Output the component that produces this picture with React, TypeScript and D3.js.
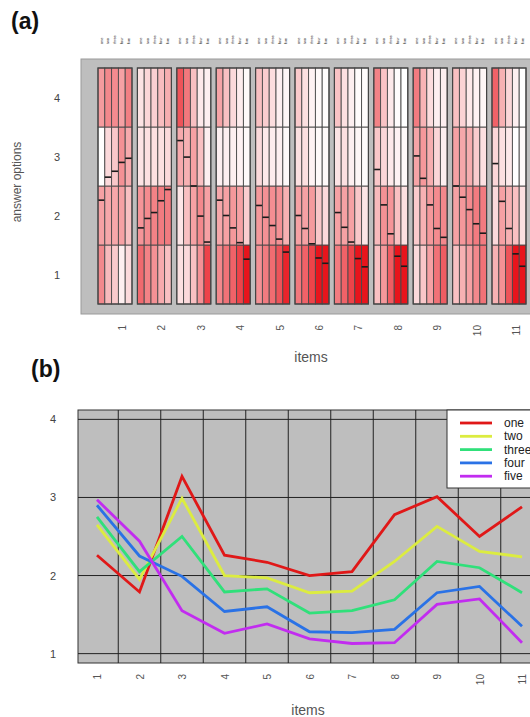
import React from 'react';
import * as d3 from 'd3';

const items = ["1", "2", "3", "4", "5", "6", "7", "8", "9", "10", "11"];
const groups = ["one", "two", "three", "four", "five"];
const options = [1, 2, 3, 4];
const yTicks = [1, 2, 3, 4];

// mean answer per group and item
const meanOne = [2.26, 1.79, 3.27, 2.26, 2.17, 2.0, 2.05, 2.78, 3.01, 2.5, 2.88];
const meanTwo = [2.65, 1.95, 2.99, 2.0, 1.97, 1.78, 1.8, 2.18, 2.63, 2.31, 2.24];
const meanThree = [2.75, 2.05, 2.5, 1.79, 1.83, 1.52, 1.55, 1.69, 2.18, 2.1, 1.78];
const meanFour = [2.9, 2.25, 1.99, 1.54, 1.6, 1.28, 1.27, 1.31, 1.78, 1.86, 1.35];
const meanFive = [2.97, 2.44, 1.55, 1.26, 1.38, 1.19, 1.13, 1.14, 1.63, 1.7, 1.14];

// share of answers for options 1..4, per group and item
const propOne = [[0.38, 0.3, 0.0, 0.32], [0.48, 0.34, 0.09, 0.09], [0.1, 0.08, 0.27, 0.55], [0.38, 0.28, 0.05, 0.29], [0.35, 0.33, 0.12, 0.2], [0.43, 0.3, 0.1, 0.17], [0.42, 0.3, 0.09, 0.19], [0.2, 0.22, 0.18, 0.4], [0.12, 0.17, 0.29, 0.42], [0.2, 0.3, 0.3, 0.2], [0.25, 0.12, 0.13, 0.5]];
const propTwo = [[0.22, 0.28, 0.12, 0.38], [0.4, 0.37, 0.1, 0.13], [0.12, 0.2, 0.25, 0.43], [0.45, 0.3, 0.05, 0.2], [0.42, 0.35, 0.07, 0.16], [0.5, 0.3, 0.1, 0.1], [0.5, 0.3, 0.1, 0.1], [0.33, 0.35, 0.13, 0.19], [0.18, 0.25, 0.33, 0.24], [0.25, 0.33, 0.28, 0.14], [0.35, 0.3, 0.1, 0.25]];
const propThree = [[0.17, 0.28, 0.18, 0.37], [0.35, 0.4, 0.1, 0.15], [0.2, 0.3, 0.3, 0.2], [0.5, 0.33, 0.05, 0.12], [0.47, 0.36, 0.06, 0.11], [0.6, 0.32, 0.04, 0.04], [0.6, 0.3, 0.05, 0.05], [0.52, 0.34, 0.07, 0.07], [0.3, 0.33, 0.26, 0.11], [0.3, 0.37, 0.26, 0.07], [0.55, 0.25, 0.07, 0.13]];
const propFour = [[0.05, 0.3, 0.35, 0.3], [0.27, 0.42, 0.1, 0.21], [0.35, 0.38, 0.2, 0.07], [0.6, 0.3, 0.04, 0.06], [0.55, 0.35, 0.05, 0.05], [0.78, 0.18, 0.02, 0.02], [0.78, 0.18, 0.03, 0.01], [0.75, 0.2, 0.04, 0.01], [0.45, 0.37, 0.13, 0.05], [0.38, 0.42, 0.16, 0.04], [0.75, 0.2, 0.0, 0.05]];
const propFive = [[0.12, 0.2, 0.27, 0.41], [0.2, 0.42, 0.12, 0.26], [0.6, 0.3, 0.05, 0.05], [0.8, 0.16, 0.02, 0.02], [0.7, 0.25, 0.02, 0.03], [0.85, 0.12, 0.02, 0.01], [0.9, 0.08, 0.01, 0.01], [0.88, 0.1, 0.02, 0.0], [0.52, 0.38, 0.05, 0.05], [0.45, 0.42, 0.1, 0.03], [0.88, 0.1, 0.02, 0.0]];

const means = [meanOne, meanTwo, meanThree, meanFour, meanFive];
const props = [propOne, propTwo, propThree, propFour, propFive];
const lineColors = ["#e01818", "#dcec40", "#30e07a", "#2a72e6", "#c22cf0"];

const FONT = "'Liberation Sans', Arial, sans-serif";

const App = () => {
  // panel (a): one block per item, one column per group, one row per option
  const xA = d3.scaleBand().domain(items).range([98, 526]).paddingInner(0.137).paddingOuter(0);
  const colA = d3.scaleBand().domain(groups).range([0, xA.bandwidth()]);
  const yA = d3.scaleLinear().domain([0.5, 4.5]).range([304, 68]);
  const fill = d3.scaleLinear<string>().domain([0, 0.75]).range(["#ffffff", "#e8141c"]).clamp(true);

  // panel (b)
  const xB = d3.scaleLinear().domain([0.6, 11.4]).range([80, 539]);
  const yB = d3.scaleLinear().domain([0.88, 4.12]).range([663, 410]);
  const line = d3.line<number>().x((d, i) => xB(i + 1)).y(d => yB(d));

  return (
    <svg width={530} height={717} style={{ position: 'absolute', left: 0, top: 0, background: '#fff' }} fontFamily={FONT}>
      {/* (a) */}
      <text x={11} y={29} fontSize={23} fontWeight="bold" fill="#111">(a)</text>
      <rect x={81} y={59} width={470} height={255} fill="#bebebe" stroke="#9a9a9a" />
      {items.map((it, i) => {
        const bx = xA(it)!;
        return (
          <g key={it}>
            {groups.map((g, gi) => {
              const cx = bx + colA(g)!;
              return (
                <g key={g}>
                  {options.map((o, oi) => (
                    <rect key={o} x={cx} y={yA(o + 0.5)} width={colA.bandwidth()} height={yA(o - 0.5) - yA(o + 0.5)}
                      fill={fill(props[gi][i][oi])} stroke="#4a4a4a" strokeWidth={0.9} />
                  ))}
                  <line x1={cx} x2={cx + colA.bandwidth()} y1={yA(means[gi][i])} y2={yA(means[gi][i])} stroke="#1a1a1a" strokeWidth={1.6} />
                  <text transform={`translate(${cx + colA.bandwidth() / 2 + 1.2},44) rotate(-90)`} fontSize={3.8} fill="#222">{g}</text>
                </g>
              );
            })}
            <rect x={bx} y={68} width={xA.bandwidth()} height={236} fill="none" stroke="#444" strokeWidth={1.2} />
            <text transform={`translate(${bx + xA.bandwidth() / 2 + 11},325) rotate(-90)`} fontSize={10} fill="#555" textAnchor="end">{it}</text>
          </g>
        );
      })}
      {options.map(o => (
        <text key={o} x={57} y={yA(o) + 4} fontSize={11} fill="#444" textAnchor="middle">{o}</text>
      ))}
      <text transform="translate(21,182) rotate(-90)" fontSize={12} fill="#555" textAnchor="middle">answer options</text>
      <text x={311} y={362} fontSize={14} fill="#555" textAnchor="middle">items</text>

      {/* (b) */}
      <text x={31} y={377} fontSize={23} fontWeight="bold" fill="#111">(b)</text>
      <rect x={78} y={410} width={470} height={253} fill="#bebebe" stroke="#333" strokeWidth={1} />
      {yTicks.map(t => (
        <g key={t}>
          <line x1={78} x2={548} y1={yB(t)} y2={yB(t)} stroke="#222" strokeWidth={1} />
          <text x={53} y={yB(t) + 4} fontSize={11} fill="#444" textAnchor="middle">{t}</text>
        </g>
      ))}
      {items.slice(0, -1).map((it, i) => (
        <line key={it} x1={xB(i + 1.5)} x2={xB(i + 1.5)} y1={410} y2={663} stroke="#222" strokeWidth={1} />
      ))}
      {means.map((m, gi) => (
        <path key={gi} d={line(m)!} fill="none" stroke={lineColors[gi]} strokeWidth={2.8} strokeLinejoin="miter" />
      ))}
      {items.map((it, i) => (
        <text key={it} transform={`translate(${xB(i + 1) + 4},674) rotate(-90)`} fontSize={10} fill="#555" textAnchor="end">{it}</text>
      ))}
      <text x={308} y={715} fontSize={14} fill="#555" textAnchor="middle">items</text>

      <rect x={447} y={410} width={100} height={78} fill="#fff" stroke="#333" />
      {groups.map((g, gi) => (
        <g key={g}>
          <line x1={460} x2={492} y1={423 + gi * 13.3} y2={423 + gi * 13.3} stroke={lineColors[gi]} strokeWidth={2.8} />
          <text x={504} y={427 + gi * 13.3} fontSize={12} fill="#222">{g}</text>
        </g>
      ))}
    </svg>
  );
};

export default App;
